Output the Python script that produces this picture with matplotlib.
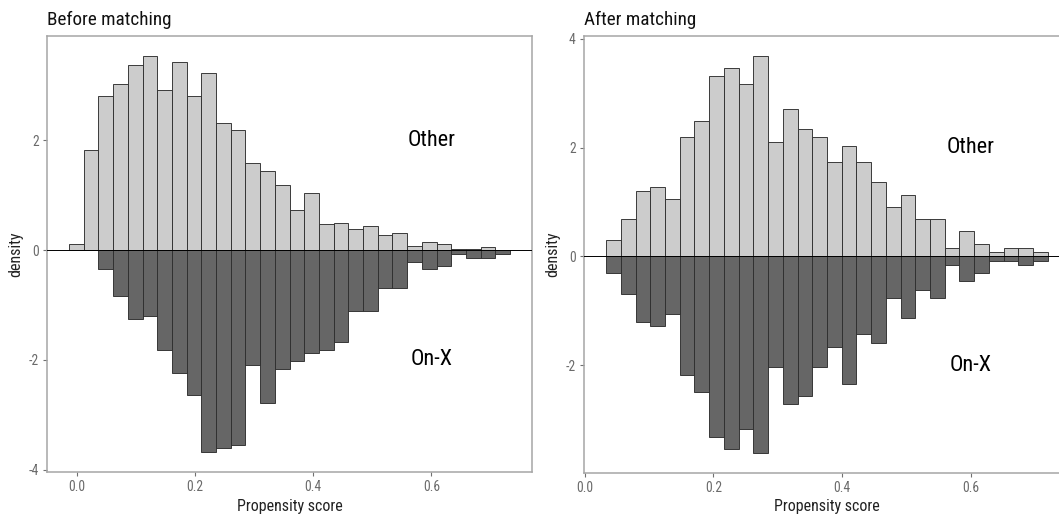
import numpy as np
import matplotlib
matplotlib.use('Agg')
from matplotlib import pyplot as plt

# histogram bins (30 bins each panel)
before_start = -0.0132
before_width = 0.02488
after_start = 0.0331
after_width = 0.0229

before_other = [0.12, 1.82, 2.80, 3.02, 3.38, 3.54, 2.92, 3.42, 2.80, 3.22,
                2.32, 2.19, 1.58, 1.45, 1.18, 0.74, 1.04, 0.48, 0.50, 0.38,
                0.44, 0.28, 0.32, 0.08, 0.14, 0.11, 0.03, 0.03, 0.065, 0.0]
before_onx = [0.0, 0.0, 0.35, 0.84, 1.25, 1.19, 1.81, 2.23, 2.64, 3.68,
              3.61, 3.54, 2.09, 2.78, 2.16, 2.01, 1.88, 1.81, 1.67, 1.11,
              1.11, 0.69, 0.69, 0.21, 0.35, 0.28, 0.07, 0.135, 0.135, 0.07]

after_other = [0.31, 0.69, 1.21, 1.28, 1.06, 2.20, 2.49, 3.31, 3.47, 3.17,
               3.69, 2.11, 2.72, 2.34, 2.20, 1.74, 2.04, 1.74, 1.36, 0.91,
               1.13, 0.69, 0.69, 0.16, 0.46, 0.23, 0.08, 0.16, 0.16, 0.09]
after_onx = [0.31, 0.69, 1.20, 1.28, 1.06, 2.19, 2.49, 3.32, 3.54, 3.17,
             3.61, 2.04, 2.72, 2.56, 2.04, 1.66, 2.34, 1.43, 1.59, 0.76,
             1.14, 0.61, 0.76, 0.15, 0.45, 0.31, 0.08, 0.08, 0.16, 0.08]

xticks = [0.0, 0.2, 0.4, 0.6]
font = ['Roboto Condensed', 'Roboto', 'DejaVu Sans']
plt.rcParams['font.family'] = font

W, H = 1059, 518
fig = plt.figure(figsize=(W / 100, H / 100), dpi=100)


def panel(box, start, width, other, onx, xlim, ylim, yticks, title):
    l, t, r, b = box
    ax = fig.add_axes([l / W, 1 - b / H, (r - l) / W, (b - t) / H])
    lefts = start + width * np.arange(len(other))
    ax.bar(lefts, other, width=width, align='edge', color='#cccccc',
           edgecolor='#2e2e2e', linewidth=0.65, zorder=2)
    ax.bar(lefts, -np.array(onx), width=width, align='edge', color='#666666',
           edgecolor='#2e2e2e', linewidth=0.65, zorder=3)
    ax.axhline(0, color='black', linewidth=0.7, zorder=4)
    ax.set_xlim(xlim)
    ax.set_ylim(ylim)
    ax.set_xticks(xticks)
    ax.set_xticklabels(['%.1f' % v for v in xticks])
    ax.set_yticks(yticks)
    ax.set_yticklabels([str(v) for v in yticks])
    for s in ax.spines.values():
        s.set_color('#a6a6a6')
        s.set_linewidth(1.1)
    ax.tick_params(colors='#707070', labelcolor='#6a6a6a', labelsize=9.8,
                   length=3, width=0.8, pad=3)
    ax.set_xlabel('Propensity score', fontsize=11.5, color='#222222', labelpad=3)
    ax.set_ylabel('density', fontsize=11.5, color='#222222', labelpad=4)
    ax.text(0.6, 2, 'Other', fontsize=16, ha='center', va='center', color='black')
    ax.text(0.6, -2, 'On-X', fontsize=16, ha='center', va='center', color='black')
    ax.set_title(title, loc='left', fontsize=13.8, color='#111111', pad=8)
    return ax


panel((47, 36, 532, 472), before_start, before_width, before_other, before_onx,
      (-0.0505, 0.7703), (-4.04, 3.90), [-4, -2, 0, 2], 'Before matching')
panel((584, 36, 1070, 472.5), after_start, after_width, after_other, after_onx,
      (-0.0013, 0.7546), (-3.975, 4.055), [-2, 0, 2, 4], 'After matching')

fig.savefig('out.png', dpi=100)
